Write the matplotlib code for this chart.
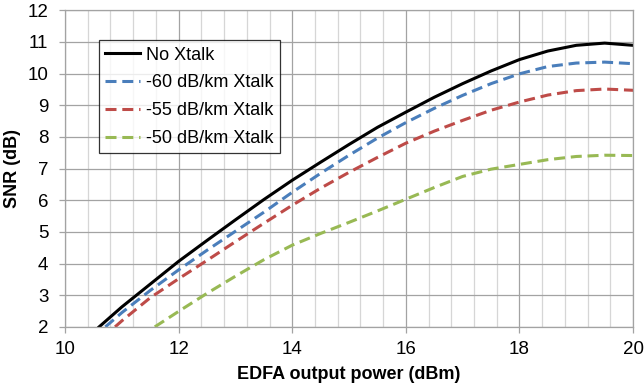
import numpy as np
import matplotlib.pyplot as plt
from matplotlib.ticker import MultipleLocator

plt.rcParams['font.family'] = ['Liberation Sans', 'DejaVu Sans']

# EDFA output power (dBm) and SNR (dB)
x_none = [10.6, 11.0, 11.5, 12.0, 12.5, 13.0, 13.5, 14.0, 14.5, 15.0, 15.5, 16.0, 16.5, 17.0, 17.5, 18.0, 18.5, 19.0, 19.5, 20.0]
snr_none = [2.0, 2.63, 3.35, 4.07, 4.73, 5.38, 6.02, 6.63, 7.2, 7.76, 8.3, 8.78, 9.25, 9.68, 10.08, 10.44, 10.71, 10.89, 10.96, 10.89]

x_60 = [10.71, 11.0, 11.5, 12.0, 12.5, 13.0, 13.5, 14.0, 14.5, 15.0, 15.5, 16.0, 16.5, 17.0, 17.5, 18.0, 18.5, 19.0, 19.5, 20.0]
snr_60 = [2.0, 2.45, 3.15, 3.8, 4.42, 5.02, 5.62, 6.25, 6.85, 7.42, 7.96, 8.45, 8.9, 9.31, 9.68, 9.99, 10.22, 10.33, 10.36, 10.31]

x_55 = [10.88, 11.0, 11.5, 12.0, 12.5, 13.0, 13.5, 14.0, 14.5, 15.0, 15.5, 16.0, 16.5, 17.0, 17.5, 18.0, 18.5, 19.0, 19.5, 20.0]
snr_55 = [2.0, 2.19, 2.92, 3.52, 4.1, 4.69, 5.27, 5.84, 6.38, 6.88, 7.35, 7.8, 8.18, 8.52, 8.84, 9.1, 9.32, 9.46, 9.51, 9.47]

x_50 = [11.58, 12.0, 12.5, 13.0, 13.5, 14.0, 14.5, 15.0, 15.5, 16.0, 16.5, 17.0, 17.5, 18.0, 18.5, 19.0, 19.5, 20.0]
snr_50 = [2.0, 2.49, 3.06, 3.6, 4.12, 4.58, 4.95, 5.3, 5.66, 6.03, 6.4, 6.75, 6.98, 7.13, 7.28, 7.38, 7.42, 7.41]

fig = plt.figure(figsize=(6.44, 3.91), dpi=100)
ax = fig.add_axes([0.101, 0.164, 0.882, 0.81])

dash = (0, (3.6, 1.9))
ax.plot(x_none, snr_none, color='black', lw=2.2, label='No Xtalk')
ax.plot(x_60, snr_60, color='#4a7ebb', lw=2.2, ls=dash, label='-60 dB/km Xtalk')
ax.plot(x_55, snr_55, color='#be4b48', lw=2.2, ls=dash, label='-55 dB/km Xtalk')
ax.plot(x_50, snr_50, color='#98b954', lw=2.2, ls=dash, label='-50 dB/km Xtalk')

ax.set_xlim(10, 20)
ax.set_ylim(2, 12)
ax.xaxis.set_major_locator(MultipleLocator(2))
ax.xaxis.set_minor_locator(MultipleLocator(0.4))
ax.yaxis.set_major_locator(MultipleLocator(1))

ax.grid(which='major', axis='both', color='#a3a3a3', lw=0.9)
ax.grid(which='minor', axis='x', color='#d6d6d6', lw=0.9)
ax.set_axisbelow(True)

for s in ax.spines.values():
    s.set_color('#a3a3a3')
    s.set_linewidth(0.9)

ax.tick_params(axis='x', which='major', direction='out', length=4, width=0.9, color='#a3a3a3', labelsize=13.5, pad=6)
ax.tick_params(axis='x', which='minor', length=0)
ax.tick_params(axis='y', which='major', direction='out', length=4, width=0.9, color='#a3a3a3', labelsize=13.5, pad=8)

ax.set_xlabel('EDFA output power (dBm)', fontsize=13, fontweight='bold', labelpad=6)
ax.set_ylabel('SNR (dB)', fontsize=13, fontweight='bold', labelpad=5)

leg = ax.legend(loc='upper left', bbox_to_anchor=(0.06, 0.905), fontsize=13,
                frameon=True, fancybox=False, edgecolor='black', handlelength=1.9,
                handletextpad=0.35, borderpad=0.35, labelspacing=0.6, borderaxespad=0)
leg.get_frame().set_linewidth(0.9)

fig.savefig('out.png', dpi=100)
